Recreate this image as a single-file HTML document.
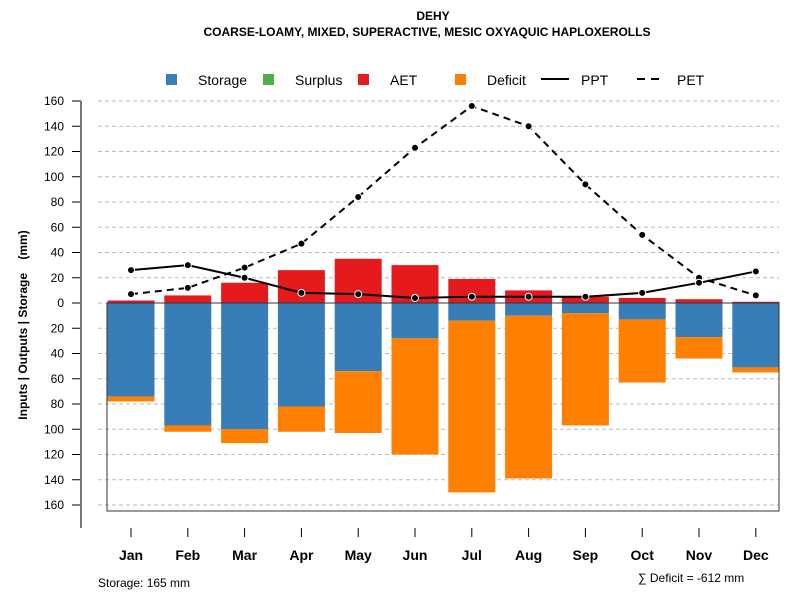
<!DOCTYPE html>
<html><head><meta charset="utf-8"><style>
body{margin:0;background:#fff}
svg{font-family:"Liberation Sans",Arial,sans-serif}
</style></head><body>
<svg id="chart" width="800" height="600" viewBox="0 0 800 600">
<text x="433" y="20" font-size="12" font-weight="bold" text-anchor="middle">DEHY</text>
<text x="427" y="36" font-size="12" font-weight="bold" text-anchor="middle">COARSE-LOAMY, MIXED, SUPERACTIVE, MESIC OXYAQUIC HAPLOXEROLLS</text>
<g font-size="14">
<rect x="166" y="74" width="11" height="11" fill="#377eb8"/>
<text x="198" y="85">Storage</text>
<rect x="263" y="74" width="11" height="11" fill="#4daf4a"/>
<text x="295" y="85">Surplus</text>
<rect x="358" y="74" width="11" height="11" fill="#e41a1c"/>
<text x="390" y="85">AET</text>
<rect x="455" y="74" width="11" height="11" fill="#ff7f00"/>
<text x="487" y="85">Deficit</text>
<line x1="541" y1="79" x2="569" y2="79" stroke="#000" stroke-width="2"/>
<text x="581" y="85">PPT</text>
<line x1="637" y1="79" x2="663" y2="79" stroke="#000" stroke-width="2" stroke-dasharray="8,6"/>
<text x="677" y="85">PET</text>
</g>
<g id="grid"></g>
<g id="bars"></g>
<rect x="107" y="303" width="672" height="208" fill="none" stroke="#333" stroke-width="1"/>
<line x1="107" y1="303" x2="779" y2="303" stroke="#333"/>
<g id="lines"></g>
<g id="yaxis"></g>
<g id="xaxis"></g>
<text transform="translate(27,325) rotate(-90)" font-size="12" font-weight="bold" text-anchor="middle" xml:space="preserve">Inputs | Outputs | Storage    (mm)</text>
<text x="98" y="587" font-size="12">Storage: 165 mm</text>
<text x="638" y="582" font-size="12">∑ Deficit = -612 mm</text>
</svg>
<script>
const months=["Jan","Feb","Mar","Apr","May","Jun","Jul","Aug","Sep","Oct","Nov","Dec"];
const aet=[2,6,16,26,35,30,19,10,5,4,3,1];
const storage=[74,97,100,82,54,28,14,10,8,13,27,51];
const deficit=[4,5,11,20,49,92,136,129,89,50,17,4];
const ppt=[26,30,20,8,7,4,5,5,5,8,16,25];
const pet=[7,12,28,47,84,123,156,140,94,54,20,6];
const yTicks=[160,140,120,100,80,60,40,20,0,-20,-40,-60,-80,-100,-120,-140,-160];
const NS="http://www.w3.org/2000/svg";
const y=v=>303-v*1.2625;
const x=i=>131+i*56.8;
const BW=47;
function mk(tag,attrs,parent){const e=document.createElementNS(NS,tag);for(const k in attrs)e.setAttribute(k,attrs[k]);parent.appendChild(e);return e;}
const grid=document.getElementById('grid'),bars=document.getElementById('bars'),lines=document.getElementById('lines'),ya=document.getElementById('yaxis'),xa=document.getElementById('xaxis');
yTicks.forEach(t=>{
 const g=mk('line',{x1:98,x2:779,y1:y(t),y2:y(t),stroke:'#bbb','stroke-dasharray':'4,3'},grid);
 
 
 const tk=mk('line',{x1:72,x2:81,y1:y(t),y2:y(t),stroke:'#000'},ya);
 
 
 const tl=mk('text',{x:64,y:y(t)+4,'font-size':12,'text-anchor':'end'},ya);
 tl.textContent=Math.abs(t);
 
 
});
const al=mk('line',{x1:81,x2:81,y1:y(160),y2:528,stroke:'#777','stroke-width':2},ya);


months.forEach((m,i)=>{
 const cx=x(i);
 const a=mk('rect',{x:cx-BW/2,y:y(aet[i]),width:BW,height:y(0)-y(aet[i]),fill:'#e41a1c'},bars);
 
 
 const s=mk('rect',{x:cx-BW/2,y:y(0),width:BW,height:y(-storage[i])-y(0),fill:'#377eb8'},bars);
 
 
 const d=mk('rect',{x:cx-BW/2,y:y(-storage[i]),width:BW,height:y(-storage[i]-deficit[i])-y(-storage[i]),fill:'#ff7f00'},bars);
 
 
 const tk=mk('line',{x1:cx,x2:cx,y1:528,y2:537,stroke:'#000'},xa);
 
 
 const tl=mk('text',{x:cx,y:560,'font-size':14,'font-weight':'bold','text-anchor':'middle'},xa);
 tl.textContent=m;
 
 
});
function series(vals,name,dash){
 const p=mk('polyline',{points:vals.map((v,i)=>x(i)+','+y(v)).join(' '),fill:'none',stroke:'#000','stroke-width':2,'stroke-dasharray':dash},lines);
 
 
 vals.forEach((v,i)=>{
  const c=mk('circle',{cx:x(i),cy:y(v),r:3.5,fill:'#000',stroke:'#fff','stroke-width':1},lines);
  
  
 });
}
series(pet,'pet','7,5');
series(ppt,'ppt','none');
</script>
</body></html>
